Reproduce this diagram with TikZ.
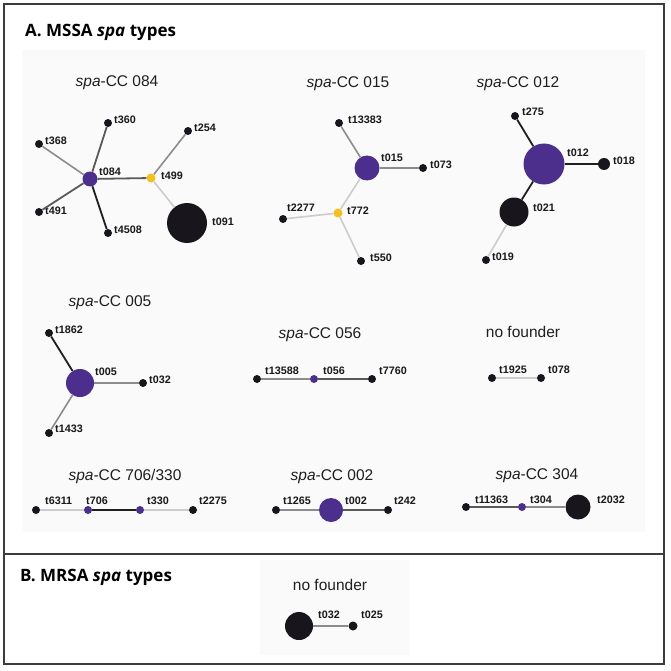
\documentclass[tikz,border=0pt]{standalone}
\usepackage{fontspec}
\setmainfont{Liberation Sans}
\newfontfamily\headfont{Open Sans}
\usepackage{tikz}
\usetikzlibrary{positioning}

\definecolor{spaviola}{RGB}{76,47,141}
\definecolor{spagiallo}{RGB}{246,191,32}
\definecolor{spanero}{RGB}{24,22,28}
\definecolor{cornice}{RGB}{60,60,60}
\definecolor{fondo}{RGB}{250,250,250}

\tikzset{
  nodo/.style={circle, inner sep=0pt, draw=none},
  etichetta/.style={anchor=west, inner sep=0pt, text=black!90, font=\bfseries\fontsize{10.8}{12}\selectfont},
  gruppo/.style={anchor=base, inner sep=0pt, text=black!88, font=\fontsize{15.5}{18}\selectfont},
  sezione/.style={anchor=base west, inner sep=0pt, font=\headfont\bfseries\fontsize{17}{20}\selectfont},
  bk/.style={draw=black!88, line width=1.8pt},
  dk/.style={draw=black!65, line width=1.8pt},
  md/.style={draw=black!45, line width=1.6pt},
  lt/.style={draw=black!20, line width=1.6pt}
}

\begin{document}
\begin{tikzpicture}[x=1pt, y=-1pt]
    \useasboundingbox (0,0) rectangle (670,671);

    % Sfondi dei pannelli
    \fill[fondo] (22,50) rectangle (645,532);
    \fill[fondo] (260,560) rectangle (410,655);

    % Cornice e divisione A/B
    \draw[cornice, line width=2pt] (4,4) rectangle (664,664);
    \draw[cornice, line width=1.5pt] (4,554) -- (664,554);

    % Titoli delle sezioni
    \node[sezione] (titoloA) at (25,37) {A. MSSA \textit{spa} types};
    \node[sezione] (titoloB) at (20,581) {B. MRSA \textit{spa} types};

    % Titoli dei complessi clonali
    \foreach \n/\x/\y/\testo in {cc084/117/87/{\textit{spa}-CC 084},
                                 cc015/348/88/{\textit{spa}-CC 015},
                                 cc012/518/88/{\textit{spa}-CC 012},
                                 cc005/110/306/{\textit{spa}-CC 005},
                                 cc056/320/338/{\textit{spa}-CC 056},
                                 nfA/523/337/{no founder},
                                 cc706/125/480/{\textit{spa}-CC 706/330},
                                 cc002/332/480/{\textit{spa}-CC 002},
                                 cc304/537/479/{\textit{spa}-CC 304},
                                 nfB/330/590/{no founder}} {
        \node[gruppo] (\n) at (\x,\y) {\testo};
    }

    % Tipi spa: nome/x/y/diametro/colore/testo/x etichetta/y etichetta
    \foreach \n/\x/\y/\d/\c/\t/\lx/\ly in {
            t084/90/179/15/spaviola/t084/99/172,
            t360/108/123/8/spanero/t360/114/120,
            t368/39/144/8/spanero/t368/45/141,
            t491/39/212/8/spanero/t491/45/211,
            t4508/108/233/8/spanero/t4508/114/230,
            t499/151/178/9/spagiallo/t499/161/176,
            t254/188/131/8/spanero/t254/194/128,
            t091/187/223/40/spanero/t091/212/222,
            t015/367/168/25/spaviola/t015/381/158,
            t13383/339/123/8/spanero/t13383/348/120,
            t073/423/168/8/spanero/t073/430/165,
            t772/338/213/9/spagiallo/t772/347/211,
            t2277/283/219/8/spanero/t2277/287/208,
            t550/361/261/8/spanero/t550/370/258,
            t012/544/164/41/spaviola/t012/567/153,
            t275/515/116/8/spanero/t275/522/112,
            t018/604/164/12/spanero/t018/613/161,
            t021/514/212/29/spanero/t021/533/208,
            t019/486/260/8/spanero/t019/492/257,
            t005/80/383/28/spaviola/t005/95/372,
            t1862/49/333/8/spanero/t1862/55/330,
            t032/143/383/8/spanero/t032/149/380,
            t1433/49/433/8/spanero/t1433/55/429,
            t13588/257/379/8/spanero/t13588/265/371,
            t056/314/379/8/spaviola/t056/323/371,
            t7760/372/379/8/spanero/t7760/379/371,
            t1925/492/378/8/spanero/t1925/499/370,
            t078/541/378/8/spanero/t078/548/370,
            t6311/36/510/8/spanero/t6311/45/501,
            t706/88/510/8/spaviola/t706/86/501,
            t330/140/510/8/spaviola/t330/147/501,
            t2275/193/510/8/spanero/t2275/199/501,
            t1265/276/510/8/spanero/t1265/283/501,
            t002/331/510/24/spaviola/t002/345/501,
            t242/388/510/8/spanero/t242/394/501,
            t11363/466/507/8/spanero/t11363/475/500,
            t304/522/507/8/spaviola/t304/530/500,
            t2032/578/507/25/spanero/t2032/597/500,
            b032/299/626/28/spanero/t032/318/615,
            b025/353/626/9/spanero/t025/361/615} {
        \node[nodo, minimum size=\d pt, fill=\c] (\n) at (\x,\y) {};
        \node[etichetta] (l\n) at (\lx,\ly) {\t};
    }

    % Collegamenti tra i tipi
    \foreach \a/\b/\s in {t084/t360/dk, t084/t368/md, t084/t491/dk, t084/t4508/bk,
                          t084/t499/dk, t499/t254/md, t499/t091/lt,
                          t015/t13383/md, t015/t073/md, t015/t772/lt,
                          t772/t2277/lt, t772/t550/lt,
                          t012/t275/bk, t012/t018/bk, t012/t021/bk, t021/t019/lt,
                          t005/t1862/bk, t005/t032/md, t005/t1433/md,
                          t13588/t056/md, t056/t7760/dk, t1925/t078/lt,
                          t6311/t706/lt, t706/t330/bk, t330/t2275/lt,
                          t1265/t002/md, t002/t242/dk,
                          t11363/t304/dk, t304/t2032/md,
                          b032/b025/md}
        \draw[\s] (\a) -- (\b);

\end{tikzpicture}
\end{document}
